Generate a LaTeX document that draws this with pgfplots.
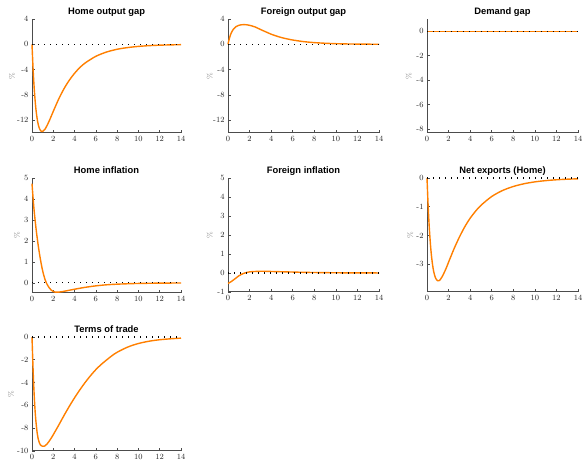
\documentclass[border=0pt]{standalone}
\usepackage{fontspec}
\usepackage{pgfplots}
\pgfplotsset{compat=1.18}
\newfontfamily\titlefont{Liberation Sans}
\definecolor{irforange}{RGB}{255,127,0}
\pgfplotsset{
  every axis title shift=0pt,
  irf/.style={
    scale only axis,
    axis x line*=bottom, axis y line*=left,
    xmin=0, xmax=14, xtick={0,2,...,14},
    tick align=inside,
    major tick length=2.5bp,
    axis line style={black!70, line width=1bp},
    every tick/.style={black!70, line width=0.6bp},
    tick label style={font=\rmfamily\fontsize{8}{9}\selectfont, color=black!85},
    /pgf/number format/assume math mode=true,
    ylabel={\%},
    ylabel style={font=\rmfamily\fontsize{7.5}{8}\selectfont, color=black!50, anchor=center},
    title style={font=\titlefont\bfseries\fontsize{9.4}{10}\selectfont, at={(axis description cs:0.5,1)}, anchor=base, yshift=4bp, inner sep=0pt},
    clip=false,
  },
  zeroline/.style={black, line width=1.1bp, dash pattern=on 1.1bp off 4.9bp, forget plot},
  irfline/.style={irforange, line width=1.4bp, smooth, no markers},
}
\begin{document}
\begin{tikzpicture}[x=1bp,y=1bp]
\useasboundingbox (0,0) rectangle (583,461);

% Row 1
\begin{axis}[irf, at={(32bp,328bp)}, anchor=south west, width=149bp, height=114bp,
  ymin=-14, ymax=4, ytick={-12,-8,-4,0,4}, title={Home output gap},
  ylabel style={at={(axis description cs:-0.134,0.5)}}]
\addplot[irfline] coordinates {(0,0)(0.1,-3.84)(0.2,-6.78)(0.3,-9.01)(0.4,-10.70)(0.5,-11.91)(0.6,-12.75)(0.7,-13.30)(0.8,-13.62)(0.9,-13.75)(1.0,-13.75)(1.2,-13.45)(1.4,-12.87)(1.6,-12.16)(1.8,-11.38)(2.0,-10.58)(2.5,-8.67)(3,-7.03)(3.5,-5.68)(4,-4.57)(4.5,-3.66)(5,-2.94)(6,-1.89)(7,-1.22)(8,-0.78)(9,-0.51)(10,-0.33)(11,-0.21)(12,-0.135)(13,-0.087)(14,-0.056)};
\addplot[zeroline] coordinates {(0,0)(14,0)};
\end{axis}

\begin{axis}[irf, at={(228bp,328bp)}, anchor=south west, width=151bp, height=114bp,
  ymin=-14, ymax=4, ytick={-12,-8,-4,0,4}, title={Foreign output gap},
  ylabel style={at={(axis description cs:-0.12,0.5)}}]
\addplot[irfline] coordinates {(0,0)(0.1,0.75)(0.25,1.6)(0.5,2.4)(0.75,2.8)(1.0,3.0)(1.25,3.09)(1.5,3.11)(1.75,3.08)(2,3.0)(2.5,2.75)(3,2.35)(3.5,1.97)(4,1.6)(4.5,1.3)(5,1.05)(5.5,0.85)(6,0.68)(7,0.43)(8,0.27)(9,0.17)(10,0.1)(11,0.06)(12,0.036)(13,0.021)(14,0.013)};
\addplot[zeroline] coordinates {(0,0)(14,0)};
\end{axis}

\begin{axis}[irf, at={(427bp,328bp)}, anchor=south west, width=151bp, height=114bp,
  ymin=-8.3, ymax=1, ytick={-8,-6,-4,-2,0}, title={Demand gap},
  ylabel style={at={(axis description cs:-0.12,0.5)}}]
\addplot[irfline] coordinates {(0,0)(2,0)(4,0)(6,0)(8,0)(10,0)(12,0)(14,0)};
\addplot[zeroline] coordinates {(0,0)(14,0)};
\end{axis}

% Row 2
\begin{axis}[irf, at={(32bp,168bp)}, anchor=south west, width=149bp, height=115bp,
  ymin=-0.48, ymax=5, ytick={0,1,2,3,4,5}, title={Home inflation},
  ylabel style={at={(axis description cs:-0.1,0.5)}}]
\addplot[irfline] coordinates {(0,4.73)(0.1,4.05)(0.2,3.45)(0.3,2.95)(0.4,2.5)(0.5,2.1)(0.6,1.73)(0.7,1.4)(0.8,1.1)(0.9,0.82)(1.0,0.58)(1.1,0.38)(1.2,0.2)(1.3,0.06)(1.4,-0.05)(1.6,-0.22)(1.8,-0.34)(2.0,-0.41)(2.2,-0.44)(2.5,-0.44)(3.0,-0.40)(3.5,-0.35)(4,-0.30)(5,-0.21)(6,-0.14)(7,-0.09)(8,-0.06)(9,-0.04)(10,-0.025)(12,-0.01)(14,-0.004)};
\addplot[zeroline] coordinates {(0,0)(14,0)};
\end{axis}

\begin{axis}[irf, at={(228bp,169bp)}, anchor=south west, width=151bp, height=114bp,
  ymin=-1, ymax=5, ytick={-1,0,1,2,3,4,5}, title={Foreign inflation},
  ylabel style={at={(axis description cs:-0.12,0.5)}}]
\addplot[irfline] coordinates {(0,-0.55)(0.25,-0.47)(0.5,-0.37)(0.75,-0.26)(1.0,-0.15)(1.25,-0.07)(1.5,-0.01)(1.75,0.03)(2,0.06)(2.5,0.08)(3,0.09)(3.5,0.09)(4,0.08)(5,0.065)(6,0.05)(7,0.035)(8,0.025)(10,0.012)(12,0.005)(14,0.002)};
\addplot[zeroline] coordinates {(0,0)(14,0)};
\end{axis}

\begin{axis}[irf, at={(427bp,169bp)}, anchor=south west, width=151bp, height=114bp,
  ymin=-3.97, ymax=0, ytick={-3,-2,-1,0}, title={Net exports (Home)},
  ylabel style={at={(axis description cs:-0.11,0.5)}}]
\addplot[irfline] coordinates {(0,0)(0.1,-0.93)(0.2,-1.66)(0.3,-2.22)(0.4,-2.66)(0.5,-2.98)(0.6,-3.22)(0.7,-3.38)(0.8,-3.49)(0.9,-3.55)(1.0,-3.58)(1.1,-3.58)(1.2,-3.55)(1.4,-3.44)(1.6,-3.29)(1.8,-3.12)(2.0,-2.93)(2.5,-2.47)(3,-2.06)(3.5,-1.70)(4,-1.40)(4.5,-1.157)(5,-0.952)(6,-0.644)(7,-0.436)(8,-0.296)(9,-0.200)(10,-0.135)(11,-0.092)(12,-0.062)(13,-0.042)(14,-0.028)};
\addplot[zeroline] coordinates {(0,0)(14,0)};
\end{axis}

% Row 3
\begin{axis}[irf, at={(32bp,10bp)}, anchor=south west, width=149bp, height=114bp,
  ymin=-10, ymax=0, ytick={-10,-8,-6,-4,-2,0}, title={Terms of trade},
  ylabel style={at={(axis description cs:-0.14,0.5)}}]
\addplot[irfline] coordinates {(0,0)(0.1,-2.8)(0.2,-5.0)(0.3,-6.6)(0.4,-7.7)(0.5,-8.5)(0.6,-9.0)(0.7,-9.3)(0.8,-9.48)(0.9,-9.55)(1.0,-9.58)(1.1,-9.58)(1.2,-9.56)(1.4,-9.40)(1.6,-9.16)(1.8,-8.88)(2.0,-8.57)(2.5,-7.75)(3,-6.9)(3.5,-6.09)(4,-5.33)(4.5,-4.63)(5,-3.98)(5.5,-3.39)(6,-2.86)(6.5,-2.41)(7,-2.02)(7.5,-1.65)(8,-1.34)(9,-0.88)(10,-0.57)(11,-0.37)(12,-0.24)(13,-0.16)(14,-0.10)};
\addplot[zeroline] coordinates {(0,0)(14,0)};
\end{axis}
\end{tikzpicture}
\end{document}
